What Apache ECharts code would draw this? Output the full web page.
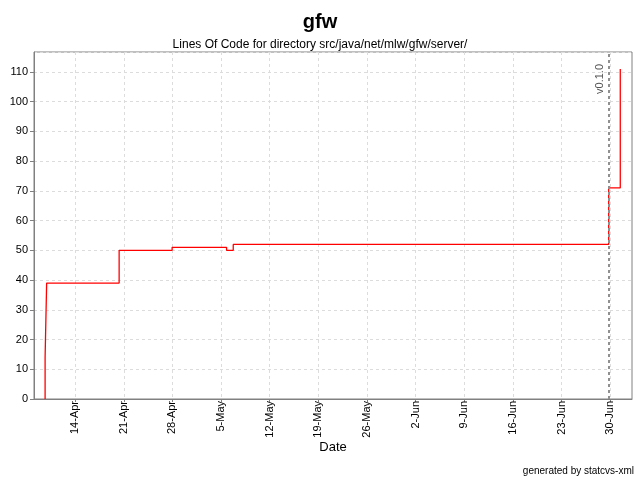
<!DOCTYPE html>
<html>
<head>
<meta charset="utf-8">
<script src="https://cdn.jsdelivr.net/npm/echarts@6/dist/echarts.min.js"></script>
<style>
html,body{margin:0;padding:0;background:#fff;}
#chart{width:640px;height:480px;}
</style>
</head>
<body>
<div id="chart"></div>
<script>
// ---- data ----
var stepDates = ['2003-04-09T16:20','2003-04-09T16:20','2003-04-09T21:40','2003-04-20T08:00','2003-04-27T23:00','2003-05-05T19:00','2003-05-06T18:00','2003-06-29T18:30','2003-07-01T10:30'];
var locValues = [0, 14, 39, 50, 51, 50, 52, 71, 111];
var tickDates = ['2003-04-14','2003-04-21','2003-04-28','2003-05-05','2003-05-12','2003-05-19','2003-05-26','2003-06-02','2003-06-09','2003-06-16','2003-06-23','2003-06-30'];
var markerDates = ['2003-06-29T17:00'];
var markerNames = ['v0.1.0'];
var xMinDate = '2003-04-08T02:00';
var xMaxDate = '2003-07-03T03:00';
var yMax = 116.7;

function ts(s){ return Date.parse((s.length === 10 ? s + 'T00:00' : s) + ':00Z'); }
var months = ['Jan','Feb','Mar','Apr','May','Jun','Jul','Aug','Sep','Oct','Nov','Dec'];
function fmt(v){ var d = new Date(v); return d.getUTCDate() + '-' + months[d.getUTCMonth()]; }

var seriesData = stepDates.map(function(s, i){ return [ts(s), locValues[i]]; });
var tickVals = tickDates.map(ts);
var markLines = markerDates.map(function(s, i){ return { xAxis: ts(s), name: markerNames[i] }; });

var FONT = '"Liberation Sans", Arial, sans-serif';
var chart = echarts.init(document.getElementById('chart'), null, {renderer:'canvas'});
chart.setOption({
  animation: false,
  backgroundColor: '#fff',
  textStyle: { fontFamily: FONT },
  title: {
    text: 'gfw',
    subtext: 'Lines Of Code for directory src/java/net/mlw/gfw/server/',
    left: 'center', top: 7, itemGap: 7,
    textStyle: { fontFamily: FONT, fontSize: 20, fontWeight: 'bold', color: '#000' },
    subtextStyle: { fontFamily: FONT, fontSize: 12, color: '#000' }
  },
  grid: {
    left: 34, right: 8, top: 52, bottom: 81,
    show: true, borderColor: '#808080', borderWidth: 1, backgroundColor: '#fff',
    containLabel: false
  },
  xAxis: {
    type: 'value',
    min: ts(xMinDate), max: ts(xMaxDate),
    name: 'Date', nameLocation: 'middle', nameGap: 42, nameMoveOverlap: false,
    nameTextStyle: { fontFamily: FONT, fontSize: 13, color: '#000' },
    axisLine: { show: true, lineStyle: { color: '#808080' } },
    axisTick: { show: true, customValues: tickVals, length: 3, lineStyle: { color: '#808080' } },
    axisLabel: {
      customValues: tickVals, rotate: 90, margin: 2,
      fontFamily: FONT, fontSize: 11, color: '#000',
      formatter: function(v){ return fmt(v); }
    },
    splitLine: { show: true, customValues: tickVals, lineStyle: { color: '#dcdcdc', type: [3,3] } }
  },
  yAxis: {
    type: 'value', min: 0, max: yMax, interval: 10,
    axisLine: { show: true, lineStyle: { color: '#808080' } },
    axisTick: { show: true, length: 4, lineStyle: { color: '#808080' } },
    axisLabel: { fontFamily: FONT, fontSize: 11, color: '#000', margin: 6, showMaxLabel: false },
    splitLine: { show: true, lineStyle: { color: '#dcdcdc', type: [3,3] } }
  },
  series: [{
    type: 'line',
    step: 'end',
    data: seriesData,
    showSymbol: false,
    symbol: 'none',
    lineStyle: { color: '#ff0000', width: 1.3 },
    markLine: {
      silent: true,
      symbol: 'none',
      lineStyle: { color: '#909090', type: [3,3], width: 2 },
      label: {
        show: true, position: 'insideEndTop',
        formatter: function(p){ return p.name; },
        fontFamily: FONT, fontSize: 11, color: '#555', distance: [12, 3]
      },
      data: markLines
    }
  }],
  graphic: [{
    type: 'text', right: 6, bottom: 4,
    style: { text: 'generated by statcvs-xml', fontFamily: FONT, fontSize: 10, fill: '#000' }
  }]
});
</script>
</body>
</html>
